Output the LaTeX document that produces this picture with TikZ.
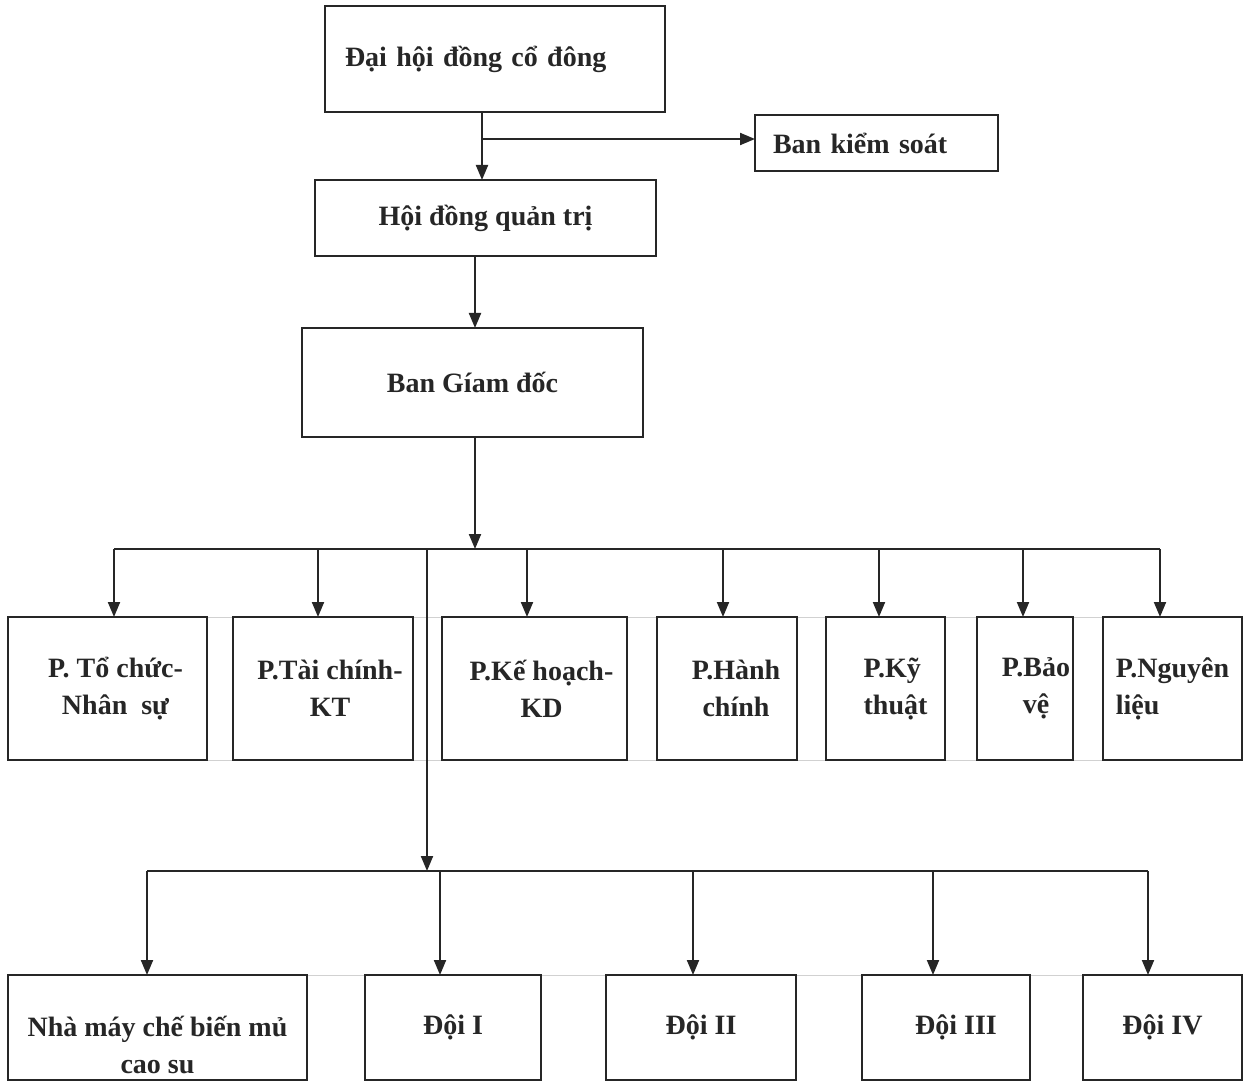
\documentclass[tikz,border=0pt]{standalone}
\usepackage{fontspec}
\setmainfont{Liberation Serif}
\usetikzlibrary{arrows.meta}
\begin{document}
\begin{tikzpicture}[x=1pt,y=-1pt,
  box/.style={draw=black!85, line width=2pt, rectangle, inner sep=0pt, outer sep=0pt,
    font=\fontsize{28}{37}\selectfont\bfseries, text=black!85, align=center},
  arr/.style={draw=black!85, line width=2pt, -{Triangle[length=15pt,width=12pt]}},
  ln/.style={draw=black!85, line width=2pt},
  grid/.style={draw=black!18, line width=1pt}]
\useasboundingbox (0,0) rectangle (1245,1083);
\fill[white] (0,0) rectangle (1245,1083);

% faint gridlines
\draw[grid] (207,617) -- (1103,617);
\draw[grid] (207,760) -- (1103,760);
\draw[grid] (307,975) -- (1083,975);

% top boxes
\node[box, align=left, text width=300pt, inner xsep=20pt, minimum height=106pt] (b1) at (495,59) {Đại hội đồng cổ đông};
\node[box, align=left, text width=207pt, inner xsep=18pt, minimum height=56pt] (bks) at (876.5,143) {Ban kiểm soát};
\node[box, minimum width=341pt, minimum height=76pt] (b2) at (485.5,218) {Hội đồng quản trị};
\node[box, minimum width=341pt, minimum height=109pt] (b3) at (472.5,382.5) {Ban Gíam đốc};

% departments
\node[box, minimum width=199pt, minimum height=143pt] (p1) at (107.5,688.5) {\hspace*{16pt}P. Tổ chức-\\\hspace*{16pt}Nhân~~sự};
\node[box, minimum width=180pt, minimum height=143pt] (p2) at (323,688.5) {\hspace*{14pt}P.Tài chính-\\\hspace*{14pt}KT};
\node[box, minimum width=185pt, minimum height=143pt] (p3) at (534.5,688.5) {\hspace*{14pt}P.Kế hoạch-\\\hspace*{14pt}KD};
\node[box, minimum width=140pt, minimum height=143pt] (p4) at (727,688.5) {\hspace*{18pt}P.Hành\\\hspace*{18pt}chính};
\node[box, minimum width=119pt, minimum height=143pt, align=left] (p5) at (885.5,688.5) {\hspace*{20pt}P.Kỹ\\\hspace*{20pt}thuật};
\node[box, minimum width=96pt, minimum height=143pt] (p6) at (1025,688.5) {\hspace*{22pt}P.Bảo\\\hspace*{22pt}vệ};
\node[box, minimum width=139pt, minimum height=143pt, align=left] (p7) at (1172.5,688.5) {P.Nguyên\\liệu};

% units
\node[box, minimum width=299pt, minimum height=105pt] (n1) at (157.5,1027.5) {\rule{0pt}{56pt}Nhà máy chế biến mủ\\cao su};
\node[box, minimum width=176pt, minimum height=105pt] (d1) at (453,1027.5) {Đội I};
\node[box, minimum width=190pt, minimum height=105pt] (d2) at (701,1027.5) {Đội II};
\node[box, minimum width=168pt, minimum height=105pt] (d3) at (946,1027.5) {\hspace*{20pt}Đội III};
\node[box, minimum width=159pt, minimum height=105pt] (d4) at (1162.5,1027.5) {Đội IV};

% junction coordinates
\coordinate (j1) at (482,139);
\coordinate (j2) at (475,290);
\coordinate (bus1) at (475,549);
\coordinate (v1) at (427,549);
\coordinate (bus2) at (427,871);

% top connectors
\draw[arr] (b1.south -| j1) -- (b2.north -| j1);
\draw[arr] (j1) -- (j1 -| bks.west);
\draw[arr] (b2.south -| j2) -- (b3.north -| j2);
\draw[arr] (b3.south -| bus1) -- (bus1);

% department bus
\coordinate (t1) at (114,617);
\coordinate (t2) at (318,617);
\coordinate (t3) at (527,617);
\coordinate (t4) at (723,617);
\coordinate (t5) at (879,617);
\coordinate (t6) at (1023,617);
\coordinate (t7) at (1160,617);
\draw[ln] (t1 |- bus1) -- (t7 |- bus1);
\foreach \t in {t1,t2,t3,t4,t5,t6,t7} \draw[arr] (\t |- bus1) -- (\t);

% vertical to units
\draw[arr] (v1) -- (bus2);

% units bus
\coordinate (u1) at (147,975);
\coordinate (u2) at (440,975);
\coordinate (u3) at (693,975);
\coordinate (u4) at (933,975);
\coordinate (u5) at (1148,975);
\draw[ln] (u1 |- bus2) -- (u5 |- bus2);
\foreach \u in {u1,u2,u3,u4,u5} \draw[arr] (\u |- bus2) -- (\u);
\end{tikzpicture}
\end{document}
